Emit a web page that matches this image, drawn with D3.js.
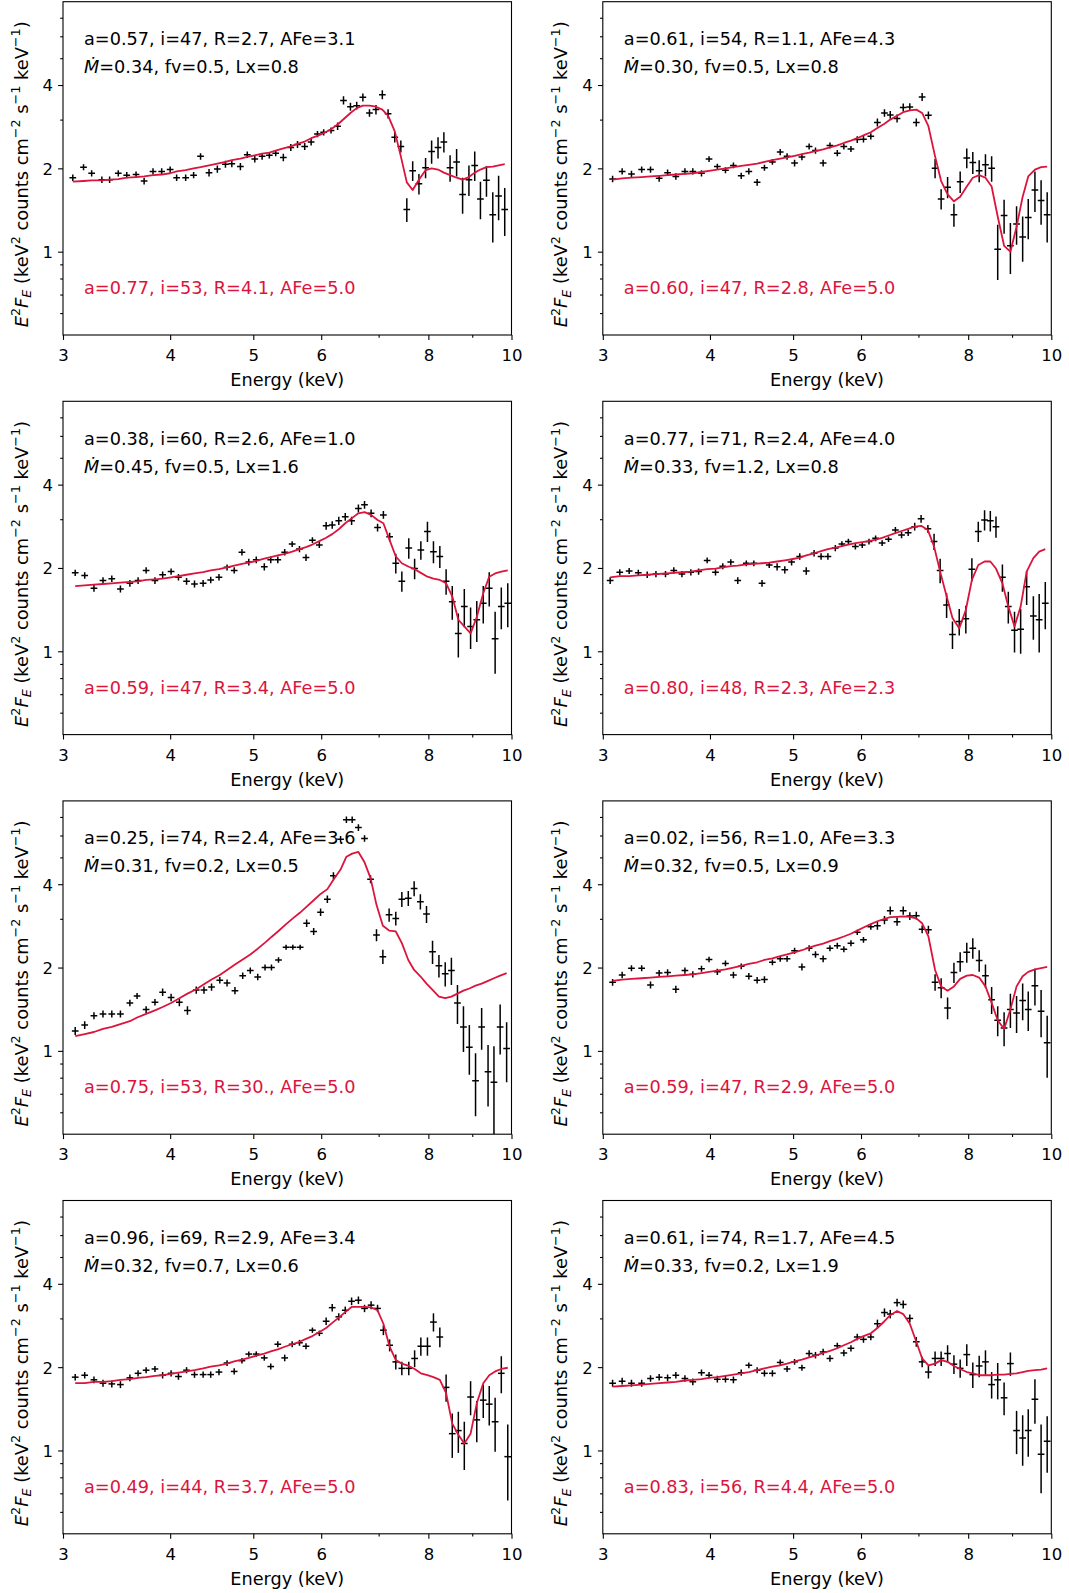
<!DOCTYPE html>
<html>
<head>
<meta charset="utf-8">
<script src="https://cdnjs.cloudflare.com/ajax/libs/d3/7.8.5/d3.min.js"></script>
<style>
  body { margin: 0; background: #fff; }
  svg { display: block; }
  text { font-family: "DejaVu Sans", sans-serif; }
</style>
</head>
<body>
<svg id="fig" width="1069" height="1593"></svg>
<script>
// ---------------------------------------------------------------
// Spectra (E^2 F_E, keV^2 counts cm^-2 s^-1 keV^-1) at bin centres,
// 1-sigma errors, and the best-fit model sampled on the same bins.
// ---------------------------------------------------------------

// Fractional half-width of each energy bin (horizontal error bar).
const binHalfWidth = 0.009;

const xTicks = [3, 4, 5, 6, 8, 10];
const xMinorTicks = [7, 9];
const yTicks = [1, 2, 4];
const yMinorTicks = [0.6, 0.7, 0.8, 0.9, 3, 5, 6, 7];

// Panel 1
const energy1 = [3.08,3.17,3.24,3.33,3.40,3.48,3.56,3.65,3.73,3.82,3.91,4.00,4.07,4.17,4.26,4.34,4.44,4.54,4.64,4.72,4.83,4.92,5.02,5.12,5.22,5.31,5.42,5.53,5.63,5.74,5.84,5.94,6.04,6.16,6.27,6.37,6.49,6.60,6.71,6.83,6.95,7.07,7.18,7.31,7.43,7.55,7.67,7.80,7.94,8.07,8.21,8.34,8.48,8.63,8.77,8.92,9.06,9.20,9.35,9.51,9.66,9.82];
const flux1 = [1.85,2.02,1.92,1.82,1.82,1.92,1.89,1.90,1.80,1.95,1.95,1.98,1.85,1.85,1.89,2.21,1.93,1.99,2.07,2.08,2.03,2.24,2.16,2.21,2.23,2.27,2.19,2.38,2.44,2.40,2.49,2.66,2.70,2.74,2.84,3.52,3.34,3.37,3.61,3.17,3.26,3.69,3.15,2.59,2.40,1.42,1.96,1.76,2.01,2.30,2.38,2.49,2.01,2.11,1.61,1.82,2.05,1.55,1.81,1.36,1.59,1.42];
const err1 = [0.05,0.05,0.05,0.05,0.05,0.05,0.05,0.05,0.05,0.05,0.05,0.05,0.05,0.05,0.05,0.06,0.06,0.06,0.06,0.06,0.06,0.06,0.06,0.06,0.06,0.06,0.07,0.07,0.07,0.07,0.07,0.07,0.07,0.07,0.09,0.12,0.11,0.11,0.12,0.10,0.13,0.14,0.12,0.11,0.12,0.14,0.16,0.15,0.17,0.22,0.21,0.21,0.22,0.24,0.24,0.23,0.25,0.24,0.23,0.28,0.29,0.28];
const model1 = [1.79,1.80,1.81,1.81,1.82,1.83,1.85,1.86,1.87,1.89,1.90,1.92,1.95,1.97,2.00,2.02,2.05,2.08,2.11,2.14,2.17,2.20,2.23,2.26,2.28,2.32,2.36,2.40,2.45,2.50,2.57,2.62,2.68,2.77,2.88,3.01,3.17,3.30,3.37,3.37,3.34,3.26,3.10,2.72,2.21,1.78,1.67,1.82,1.97,2.00,1.98,1.93,1.89,1.85,1.82,1.86,1.93,1.98,2.02,2.03,2.05,2.07];
const params1 = ["a=0.57, i=47, R=2.7, AFe=3.1", "=0.34, fv=0.5, Lx=0.8"];
const fit1 = "a=0.77, i=53, R=4.1, AFe=5.0";

// Panel 2
const energy2 = [3.08,3.16,3.24,3.33,3.41,3.49,3.57,3.65,3.74,3.82,3.91,3.99,4.08,4.17,4.26,4.35,4.44,4.54,4.63,4.73,4.83,4.92,5.02,5.12,5.22,5.31,5.42,5.52,5.63,5.73,5.84,5.94,6.04,6.16,6.27,6.39,6.49,6.61,6.72,6.84,6.96,7.07,7.19,7.32,7.44,7.57,7.70,7.83,7.97,8.10,8.24,8.38,8.52,8.66,8.81,8.96,9.11,9.26,9.40,9.57,9.73,9.89];
const flux2 = [1.83,1.95,1.91,1.98,1.98,1.84,1.93,1.87,1.95,1.95,1.92,2.16,2.03,1.97,2.05,1.88,1.95,1.78,2.01,2.11,2.29,2.21,2.09,2.20,2.40,2.32,2.09,2.42,2.27,2.40,2.35,2.54,2.55,2.61,2.93,3.17,3.12,3.03,3.32,3.33,2.93,3.62,3.11,2.00,1.55,1.71,1.36,1.79,2.18,2.10,1.96,2.06,2.00,1.02,1.35,1.05,1.26,1.13,1.33,1.67,1.53,1.36];
const err2 = [0.05,0.05,0.05,0.05,0.05,0.05,0.05,0.05,0.05,0.05,0.05,0.05,0.05,0.05,0.05,0.05,0.05,0.05,0.05,0.05,0.06,0.06,0.06,0.06,0.06,0.06,0.06,0.06,0.06,0.06,0.06,0.07,0.07,0.07,0.10,0.10,0.10,0.10,0.11,0.11,0.10,0.12,0.10,0.16,0.13,0.15,0.13,0.16,0.18,0.19,0.18,0.19,0.21,0.23,0.19,0.22,0.20,0.21,0.22,0.28,0.28,0.28];
const model2 = [1.82,1.84,1.85,1.86,1.87,1.88,1.89,1.90,1.91,1.92,1.94,1.96,1.98,2.00,2.02,2.04,2.06,2.08,2.11,2.14,2.17,2.19,2.22,2.25,2.28,2.31,2.34,2.38,2.42,2.47,2.52,2.57,2.63,2.70,2.80,2.90,3.00,3.10,3.19,3.24,3.26,3.17,2.84,2.21,1.80,1.61,1.52,1.58,1.72,1.85,1.89,1.85,1.72,1.34,1.05,1.00,1.23,1.58,1.87,1.98,2.02,2.03];
const params2 = ["a=0.61, i=54, R=1.1, AFe=4.3", "=0.30, fv=0.5, Lx=0.8"];
const fit2 = "a=0.60, i=47, R=2.8, AFe=5.0";

// Panel 3
const energy3 = [3.10,3.18,3.26,3.34,3.42,3.50,3.59,3.67,3.75,3.84,3.92,4.01,4.09,4.18,4.27,4.37,4.46,4.56,4.66,4.75,4.85,4.94,5.04,5.15,5.24,5.34,5.44,5.55,5.66,5.76,5.86,5.97,6.08,6.18,6.29,6.40,6.51,6.63,6.74,6.86,6.98,7.09,7.21,7.33,7.45,7.59,7.71,7.84,7.98,8.11,8.25,8.39,8.53,8.67,8.81,8.96,9.11,9.27,9.42,9.57,9.73,9.90];
const flux3 = [1.92,1.88,1.69,1.80,1.83,1.68,1.76,1.80,1.96,1.80,1.89,1.94,1.85,1.79,1.75,1.76,1.81,1.85,2.01,1.96,2.28,2.10,2.14,2.02,2.14,2.14,2.28,2.44,2.34,2.18,2.52,2.42,2.84,2.86,2.96,3.06,2.96,3.28,3.38,3.15,2.80,3.11,2.59,2.08,1.79,2.36,1.99,2.32,2.71,2.29,2.20,1.79,1.51,1.16,1.45,1.23,1.30,1.49,1.69,1.11,1.45,1.49];
const err3 = [0.05,0.05,0.05,0.05,0.05,0.05,0.05,0.05,0.05,0.05,0.05,0.05,0.05,0.05,0.05,0.05,0.05,0.05,0.05,0.05,0.06,0.06,0.06,0.06,0.06,0.06,0.06,0.06,0.06,0.06,0.06,0.06,0.09,0.09,0.10,0.10,0.10,0.11,0.11,0.10,0.09,0.10,0.09,0.17,0.15,0.20,0.17,0.18,0.23,0.21,0.20,0.19,0.21,0.21,0.23,0.21,0.22,0.23,0.24,0.28,0.25,0.27];
const model3 = [1.72,1.73,1.74,1.75,1.76,1.77,1.78,1.79,1.81,1.82,1.83,1.85,1.87,1.89,1.91,1.93,1.96,1.98,2.01,2.04,2.07,2.09,2.12,2.16,2.19,2.22,2.25,2.29,2.34,2.38,2.43,2.50,2.57,2.65,2.76,2.90,3.02,3.15,3.18,3.11,2.98,2.90,2.52,2.20,2.08,2.02,1.98,1.92,1.86,1.83,1.81,1.76,1.58,1.30,1.23,1.16,1.33,1.62,1.86,1.91,1.94,1.96];
const params3 = ["a=0.38, i=60, R=2.6, AFe=1.0", "=0.45, fv=0.5, Lx=1.6"];
const fit3 = "a=0.59, i=47, R=3.4, AFe=5.0";

// Panel 4
const energy4 = [3.06,3.14,3.22,3.30,3.38,3.46,3.55,3.63,3.71,3.80,3.88,3.97,4.06,4.14,4.23,4.31,4.41,4.50,4.60,4.69,4.79,4.89,4.98,5.09,5.18,5.29,5.39,5.49,5.60,5.70,5.80,5.91,6.02,6.13,6.24,6.35,6.46,6.58,6.69,6.81,6.93,7.05,7.18,7.30,7.42,7.55,7.67,7.81,7.95,8.08,8.22,8.36,8.49,8.62,8.77,8.91,9.06,9.21,9.36,9.53,9.68,9.84];
const flux4 = [1.80,1.93,1.95,1.92,1.89,1.90,1.90,1.96,1.90,1.93,1.94,2.13,1.93,2.03,2.10,1.80,2.08,2.08,1.76,2.05,2.02,1.97,2.10,2.20,1.95,2.26,2.20,2.20,2.36,2.44,2.49,2.39,2.42,2.49,2.56,2.46,2.54,2.74,2.63,2.68,2.82,3.01,2.77,2.49,1.96,1.47,1.15,1.28,1.31,1.98,2.71,2.98,2.96,2.82,1.85,1.45,1.19,1.20,1.71,1.34,1.30,1.49];
const err4 = [0.05,0.05,0.05,0.05,0.05,0.05,0.05,0.05,0.05,0.05,0.05,0.05,0.05,0.05,0.05,0.05,0.05,0.05,0.05,0.05,0.06,0.06,0.06,0.06,0.06,0.06,0.06,0.06,0.06,0.06,0.06,0.06,0.06,0.06,0.06,0.06,0.06,0.07,0.07,0.07,0.09,0.10,0.09,0.17,0.20,0.15,0.13,0.14,0.15,0.19,0.23,0.25,0.25,0.25,0.21,0.19,0.20,0.22,0.24,0.24,0.31,0.29];
const model4 = [1.85,1.87,1.87,1.88,1.89,1.90,1.91,1.92,1.93,1.94,1.96,1.98,1.99,2.01,2.03,2.04,2.06,2.07,2.08,2.09,2.11,2.13,2.15,2.18,2.22,2.26,2.30,2.34,2.37,2.40,2.43,2.46,2.48,2.50,2.53,2.57,2.62,2.67,2.72,2.77,2.82,2.84,2.74,2.39,1.94,1.58,1.32,1.21,1.41,1.81,2.05,2.11,2.11,1.99,1.76,1.45,1.23,1.45,1.94,2.17,2.29,2.34];
const params4 = ["a=0.77, i=71, R=2.4, AFe=4.0", "=0.33, fv=1.2, Lx=0.8"];
const fit4 = "a=0.80, i=48, R=2.3, AFe=2.3";

// Panel 5
const energy5 = [3.10,3.18,3.26,3.34,3.42,3.50,3.59,3.66,3.75,3.84,3.92,4.01,4.10,4.19,4.29,4.38,4.47,4.57,4.66,4.76,4.86,4.96,5.06,5.16,5.25,5.35,5.46,5.56,5.67,5.77,5.88,5.99,6.10,6.20,6.32,6.42,6.52,6.63,6.74,6.85,6.96,7.08,7.20,7.33,7.45,7.58,7.70,7.83,7.96,8.09,8.23,8.37,8.51,8.65,8.79,8.93,9.08,9.23,9.39,9.54,9.70,9.87];
const flux5 = [1.18,1.24,1.34,1.36,1.36,1.36,1.49,1.58,1.41,1.50,1.63,1.56,1.50,1.40,1.66,1.66,1.70,1.80,1.76,1.65,1.87,1.95,1.85,2.00,2.00,2.13,2.37,2.37,2.37,2.89,2.70,3.17,3.53,4.29,5.82,6.84,6.84,6.41,5.85,4.17,2.62,2.19,3.10,3.01,3.53,3.56,3.86,3.46,3.12,2.28,2.03,1.90,1.95,1.49,1.22,1.03,0.78,1.22,0.84,0.77,1.22,1.02];
const err5 = [0.04,0.04,0.04,0.04,0.04,0.04,0.04,0.04,0.04,0.04,0.05,0.05,0.05,0.05,0.05,0.05,0.05,0.05,0.05,0.05,0.05,0.05,0.05,0.05,0.05,0.05,0.05,0.05,0.05,0.09,0.08,0.10,0.11,0.13,0.16,0.19,0.19,0.18,0.16,0.14,0.13,0.13,0.17,0.17,0.22,0.22,0.24,0.22,0.22,0.22,0.19,0.19,0.22,0.24,0.23,0.21,0.20,0.21,0.21,0.27,0.25,0.25];
const model5 = [1.13,1.15,1.17,1.20,1.22,1.25,1.28,1.32,1.36,1.40,1.44,1.49,1.55,1.61,1.67,1.74,1.81,1.88,1.96,2.05,2.14,2.23,2.34,2.46,2.58,2.71,2.87,3.01,3.16,3.32,3.50,3.69,3.84,4.15,4.52,5.03,5.16,5.23,4.80,4.21,3.37,2.83,2.72,2.70,2.45,2.13,1.96,1.86,1.75,1.66,1.57,1.55,1.57,1.61,1.65,1.68,1.72,1.75,1.79,1.83,1.87,1.91];
const params5 = ["a=0.25, i=74, R=2.4, AFe=3.6", "=0.31, fv=0.2, Lx=0.5"];
const fit5 = "a=0.75, i=53, R=30., AFe=5.0";

// Panel 6
const energy6 = [3.08,3.16,3.24,3.33,3.41,3.49,3.57,3.65,3.74,3.82,3.91,3.99,4.08,4.17,4.26,4.35,4.44,4.54,4.63,4.73,4.83,4.92,5.02,5.12,5.22,5.31,5.42,5.52,5.63,5.73,5.84,5.94,6.04,6.16,6.27,6.39,6.49,6.61,6.72,6.84,6.96,7.07,7.19,7.32,7.44,7.57,7.70,7.83,7.97,8.10,8.24,8.38,8.52,8.66,8.81,8.96,9.11,9.26,9.40,9.57,9.73,9.89];
const flux6 = [1.77,1.88,1.99,1.99,1.73,1.91,1.92,1.67,1.95,1.89,1.98,2.14,1.93,2.07,1.88,2.02,1.86,1.80,1.81,2.09,2.15,2.15,2.30,2.01,2.35,2.23,2.15,2.35,2.40,2.33,2.45,2.68,2.52,2.81,2.83,2.97,3.21,2.93,3.21,3.07,3.08,2.75,2.74,1.77,1.69,1.43,1.92,2.10,2.27,2.35,2.12,1.87,1.53,1.29,1.21,1.41,1.37,1.52,1.41,1.72,1.39,1.07];
const err6 = [0.05,0.05,0.05,0.05,0.05,0.05,0.05,0.05,0.05,0.05,0.05,0.05,0.05,0.05,0.05,0.05,0.05,0.05,0.05,0.05,0.05,0.05,0.06,0.06,0.06,0.06,0.06,0.06,0.06,0.06,0.06,0.06,0.06,0.07,0.09,0.10,0.11,0.10,0.11,0.10,0.10,0.09,0.09,0.12,0.14,0.13,0.16,0.17,0.19,0.20,0.19,0.18,0.17,0.16,0.17,0.20,0.21,0.23,0.23,0.26,0.27,0.27];
const model6 = [1.79,1.81,1.82,1.83,1.84,1.85,1.86,1.87,1.88,1.89,1.91,1.93,1.95,1.97,2.00,2.03,2.06,2.09,2.13,2.16,2.20,2.23,2.27,2.31,2.36,2.40,2.44,2.49,2.54,2.59,2.65,2.72,2.79,2.87,2.94,3.00,3.04,3.05,3.06,3.05,3.01,2.89,2.59,1.96,1.71,1.65,1.71,1.82,1.87,1.88,1.84,1.71,1.49,1.29,1.20,1.41,1.71,1.86,1.93,1.97,1.99,2.01];
const params6 = ["a=0.02, i=56, R=1.0, AFe=3.3", "=0.32, fv=0.5, Lx=0.9"];
const fit6 = "a=0.59, i=47, R=2.9, AFe=5.0";

// Panel 7
const energy7 = [3.10,3.18,3.26,3.34,3.42,3.50,3.59,3.67,3.75,3.84,3.92,4.01,4.09,4.18,4.27,4.37,4.46,4.56,4.66,4.75,4.85,4.94,5.04,5.15,5.24,5.34,5.44,5.55,5.66,5.76,5.86,5.97,6.08,6.18,6.29,6.40,6.51,6.63,6.74,6.86,6.98,7.09,7.21,7.33,7.45,7.59,7.71,7.84,7.98,8.11,8.25,8.39,8.53,8.67,8.81,8.96,9.11,9.27,9.42,9.57,9.73,9.90];
const flux7 = [1.84,1.87,1.80,1.75,1.74,1.73,1.83,1.90,1.95,1.97,1.87,1.90,1.85,1.95,1.88,1.88,1.88,1.92,2.07,1.93,2.11,2.23,2.23,2.16,2.01,2.42,2.16,2.42,2.45,2.38,2.72,2.65,2.93,3.28,3.04,3.21,3.46,3.49,3.26,3.35,3.26,2.72,2.40,2.09,1.98,1.98,2.15,2.38,2.38,2.91,2.57,1.69,1.15,1.18,1.06,1.56,1.29,1.52,1.47,1.27,1.90,0.95];
const err7 = [0.05,0.05,0.05,0.05,0.05,0.05,0.05,0.05,0.05,0.05,0.05,0.05,0.05,0.05,0.05,0.05,0.05,0.05,0.05,0.05,0.05,0.05,0.05,0.05,0.05,0.06,0.06,0.06,0.06,0.06,0.06,0.06,0.09,0.10,0.09,0.10,0.11,0.11,0.10,0.11,0.10,0.11,0.12,0.13,0.11,0.11,0.15,0.18,0.18,0.22,0.21,0.19,0.21,0.20,0.21,0.22,0.22,0.21,0.24,0.28,0.29,0.29];
const model7 = [1.75,1.75,1.77,1.77,1.78,1.80,1.81,1.83,1.84,1.86,1.87,1.89,1.91,1.93,1.95,1.98,2.01,2.03,2.06,2.10,2.13,2.16,2.20,2.24,2.28,2.32,2.37,2.42,2.47,2.53,2.59,2.68,2.77,2.89,3.02,3.16,3.30,3.30,3.30,3.29,3.21,2.87,2.37,2.12,2.06,2.02,1.97,1.90,1.87,1.84,1.80,1.61,1.25,1.14,1.06,1.15,1.48,1.75,1.87,1.93,1.97,1.99];
const params7 = ["a=0.96, i=69, R=2.9, AFe=3.4", "=0.32, fv=0.7, Lx=0.6"];
const fit7 = "a=0.49, i=44, R=3.7, AFe=5.0";

// Panel 8
const energy8 = [3.08,3.16,3.24,3.33,3.41,3.49,3.57,3.65,3.74,3.82,3.91,3.99,4.08,4.17,4.26,4.35,4.44,4.54,4.63,4.73,4.83,4.92,5.02,5.12,5.22,5.31,5.42,5.52,5.63,5.73,5.84,5.94,6.04,6.16,6.27,6.39,6.49,6.61,6.72,6.84,6.96,7.07,7.19,7.32,7.44,7.57,7.70,7.83,7.97,8.10,8.24,8.38,8.52,8.66,8.81,8.96,9.11,9.26,9.40,9.57,9.73,9.89];
const flux8 = [1.75,1.78,1.75,1.75,1.82,1.84,1.83,1.87,1.82,1.77,1.91,1.87,1.81,1.81,1.80,1.91,2.03,1.95,1.90,1.90,2.08,1.97,2.09,1.99,2.24,2.21,2.27,2.15,2.39,2.25,2.34,2.57,2.52,2.57,2.87,3.15,3.11,3.42,3.37,3.00,2.47,2.09,1.92,2.15,2.15,2.24,2.05,1.98,2.22,1.88,2.02,2.09,1.73,1.80,1.55,2.06,1.18,1.11,1.18,1.53,0.97,1.08];
const err8 = [0.05,0.05,0.05,0.05,0.05,0.05,0.05,0.05,0.05,0.05,0.05,0.05,0.05,0.05,0.05,0.05,0.05,0.05,0.05,0.05,0.05,0.05,0.05,0.05,0.06,0.06,0.06,0.06,0.06,0.06,0.06,0.07,0.07,0.07,0.10,0.11,0.11,0.11,0.11,0.10,0.10,0.09,0.10,0.13,0.13,0.16,0.16,0.15,0.20,0.20,0.18,0.21,0.19,0.27,0.21,0.20,0.21,0.23,0.23,0.28,0.27,0.25];
const model8 = [1.70,1.71,1.72,1.73,1.74,1.75,1.76,1.77,1.79,1.80,1.81,1.83,1.84,1.86,1.88,1.90,1.92,1.95,1.98,2.01,2.03,2.06,2.10,2.13,2.17,2.20,2.25,2.29,2.34,2.40,2.46,2.53,2.59,2.65,2.77,2.93,3.08,3.19,3.11,2.87,2.47,2.15,2.03,2.06,2.12,2.09,2.02,1.97,1.92,1.90,1.87,1.87,1.87,1.88,1.88,1.89,1.90,1.92,1.94,1.95,1.96,1.98];
const params8 = ["a=0.61, i=74, R=1.7, AFe=4.5", "=0.33, fv=0.2, Lx=1.9"];
const fit8 = "a=0.83, i=56, R=4.4, AFe=5.0";

// ---------------------------------------------------------------
// Layout: 4 rows x 2 columns of log-log panels
// ---------------------------------------------------------------
const panels = [
  { energy: energy1, flux: flux1, err: err1, model: model1, params: params1, fit: fit1 },
  { energy: energy2, flux: flux2, err: err2, model: model2, params: params2, fit: fit2 },
  { energy: energy3, flux: flux3, err: err3, model: model3, params: params3, fit: fit3 },
  { energy: energy4, flux: flux4, err: err4, model: model4, params: params4, fit: fit4 },
  { energy: energy5, flux: flux5, err: err5, model: model5, params: params5, fit: fit5 },
  { energy: energy6, flux: flux6, err: err6, model: model6, params: params6, fit: fit6 },
  { energy: energy7, flux: flux7, err: err7, model: model7, params: params7, fit: fit7 },
  { energy: energy8, flux: flux8, err: err8, model: model8, params: params8, fit: fit8 }
];

const colLeft = [63.0, 602.8];
const rowTop = [1.7, 401.3, 800.9, 1200.5];
const plotW = 448.5;
const plotH = 333.3;
const modelColor = "crimson";
const fontMain = 17.7;
const fontLabel = 17.8;
const fontTick = 16.5;

const svg = d3.select("#fig");
svg.append("rect").attr("width", 1069).attr("height", 1593).attr("fill", "#fff");

const x = d3.scaleLog().domain([3, 10]).range([0, plotW]);
const y = d3.scaleLog().domain([0.5, 8]).range([plotH, 0]);

const line = d3.line().x(d => x(d.e)).y(d => y(d.m));

// Rich text helper: segments with italic / super / subscript styling.
function richText(sel, segs, size) {
  let shift = 0;
  segs.forEach(s => {
    let target = 0, fs = size;
    if (s.sup) { target = -0.42 * size; fs = size * 0.72; }
    if (s.sub) { target = 0.22 * size; fs = size * 0.72; }
    const t = sel.append("tspan").text(s.t).attr("font-size", fs);
    if (target !== shift) t.attr("dy", target - shift);
    if (s.it) t.attr("font-style", "italic");
    shift = target;
  });
}

const ylabelSegs = [
  { t: "E", it: true }, { t: "2", sup: true }, { t: "F", it: true }, { t: "E", it: true, sub: true },
  { t: " (keV" }, { t: "2", sup: true }, { t: " counts cm" }, { t: "\u22122", sup: true },
  { t: " s" }, { t: "\u22121", sup: true }, { t: " keV" }, { t: "\u22121", sup: true }, { t: ")" }
];

panels.forEach((p, i) => {
  const col = i % 2, row = Math.floor(i / 2);
  const g = svg.append("g").attr("transform", `translate(${colLeft[col]},${rowTop[row]})`);

  const clipId = "clip" + i;
  g.append("clipPath").attr("id", clipId)
    .append("rect").attr("width", plotW).attr("height", plotH);

  const pts = p.energy.map((e, k) => ({ e, f: p.flux[k], s: p.err[k], m: p.model[k] }));

  // data crosses: energy bin width and 1-sigma flux errors
  const data = g.append("g").attr("clip-path", `url(#${clipId})`)
    .attr("stroke", "#000").attr("stroke-width", 1.5);
  data.selectAll("line.v").data(pts).join("line").attr("class", "v")
    .attr("x1", d => x(d.e)).attr("x2", d => x(d.e))
    .attr("y1", d => y(Math.max(d.f - d.s, 0.3))).attr("y2", d => y(d.f + d.s));
  data.selectAll("line.h").data(pts).join("line").attr("class", "h")
    .attr("x1", d => x(d.e * (1 - binHalfWidth))).attr("x2", d => x(d.e * (1 + binHalfWidth)))
    .attr("y1", d => y(d.f)).attr("y2", d => y(d.f));

  // best-fit model
  g.append("path").datum(pts).attr("clip-path", `url(#${clipId})`)
    .attr("d", line).attr("fill", "none")
    .attr("stroke", modelColor).attr("stroke-width", 1.8).attr("stroke-linejoin", "round");

  // axes
  const xAxis = g.append("g").attr("transform", `translate(0,${plotH})`)
    .call(d3.axisBottom(x).tickValues(xTicks).tickFormat(d3.format("d")).tickSize(4.9).tickSizeOuter(0));
  xAxis.selectAll("text").attr("y", 26).attr("dy", null).attr("font-size", fontTick)
    .attr("fill", "#000").attr("font-family", "DejaVu Sans");
  g.append("g").attr("transform", `translate(0,${plotH})`)
    .call(d3.axisBottom(x).tickValues(xMinorTicks).tickFormat("").tickSize(2.8).tickSizeOuter(0));

  const yAxis = g.append("g")
    .call(d3.axisLeft(y).tickValues(yTicks).tickFormat(d3.format("d")).tickSize(4.9).tickSizeOuter(0));
  yAxis.selectAll("text").attr("x", -10).attr("dy", "0.36em").attr("font-size", fontTick)
    .attr("fill", "#000").attr("font-family", "DejaVu Sans");
  g.append("g")
    .call(d3.axisLeft(y).tickValues(yMinorTicks).tickFormat("").tickSize(2.8).tickSizeOuter(0));

  g.selectAll(".domain").remove();
  g.selectAll(".tick line").attr("stroke", "#000").attr("stroke-width", 1.1);

  g.append("rect").attr("width", plotW).attr("height", plotH)
    .attr("fill", "none").attr("stroke", "#000").attr("stroke-width", 1.1);

  // axis labels
  g.append("text").attr("x", plotW / 2).attr("y", plotH + 51)
    .attr("text-anchor", "middle").attr("font-size", fontMain).attr("fill", "#000")
    .text("Energy (keV)");

  const yl = g.append("text")
    .attr("transform", `translate(-35.5,${plotH / 2 + 6}) rotate(-90)`)
    .attr("text-anchor", "middle").attr("font-size", fontLabel).attr("fill", "#000");
  richText(yl, ylabelSegs, fontLabel);

  // parameter annotations
  g.append("text").attr("x", 21).attr("y", 43.3).attr("font-size", fontMain).attr("fill", "#000")
    .text(p.params[0]);
  const t2 = g.append("text").attr("x", 21).attr("y", 71.6).attr("font-size", fontMain).attr("fill", "#000");
  t2.append("tspan").attr("font-style", "italic").text("\u1E40");
  t2.append("tspan").text(p.params[1]);
  g.append("text").attr("x", 21).attr("y", 292.6).attr("font-size", fontMain).attr("fill", modelColor)
    .text(p.fit);
});
</script>
</body>
</html>
